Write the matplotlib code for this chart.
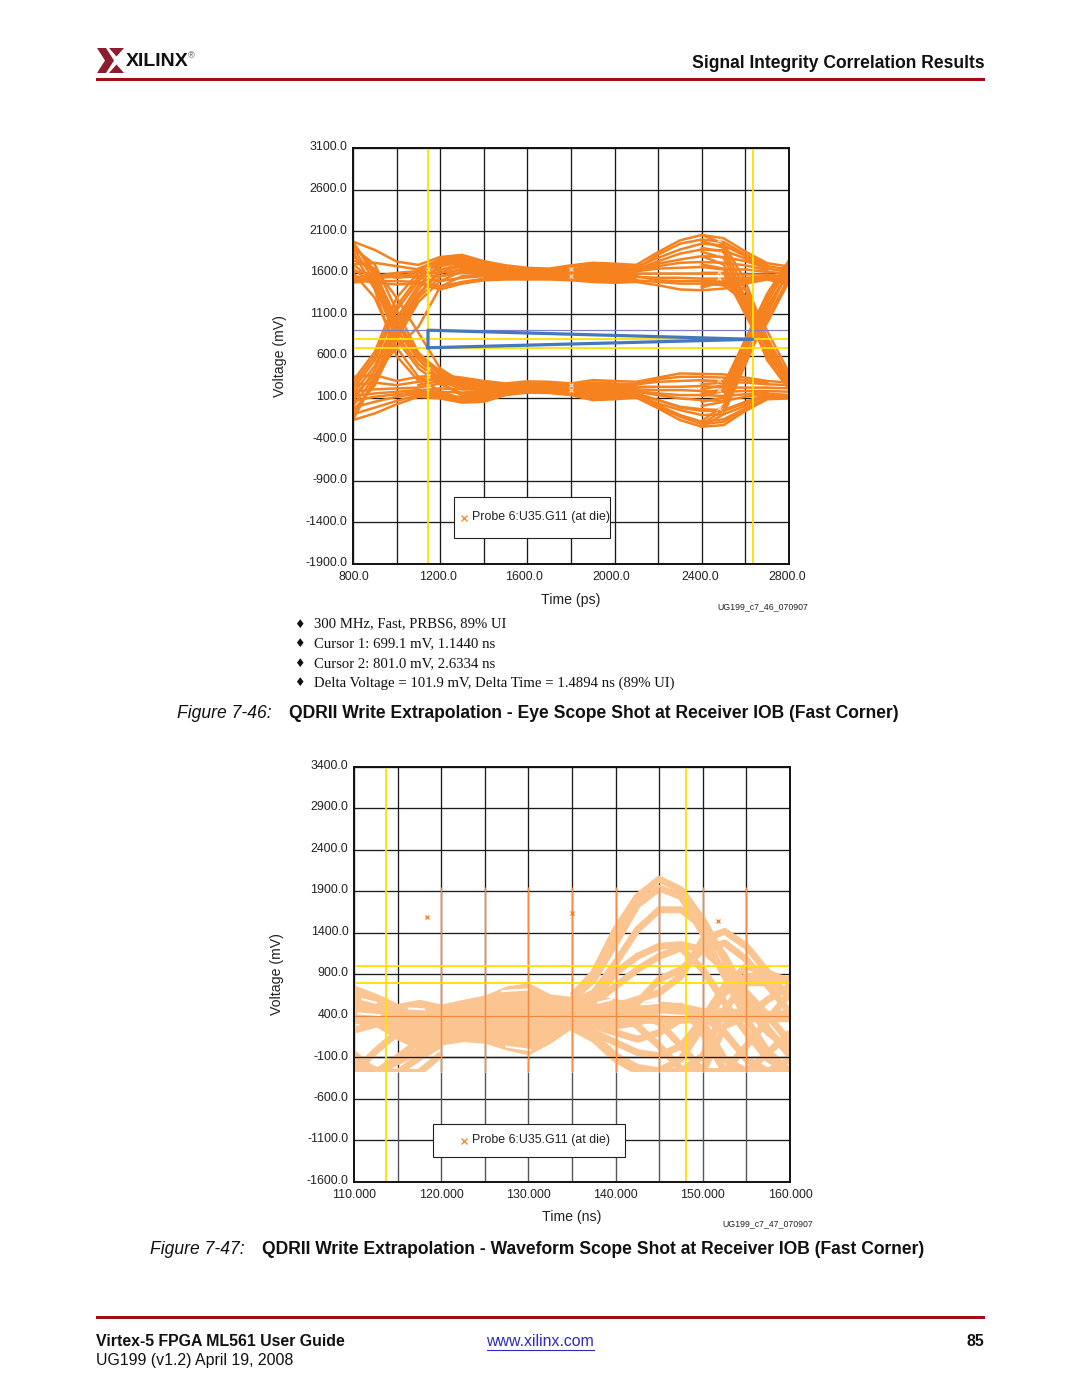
import matplotlib
matplotlib.use("Agg")
import matplotlib.pyplot as plt
from matplotlib.patches import Rectangle, Polygon
from matplotlib.transforms import ScaledTranslation

plt.rcParams['font.family'] = ['Liberation Sans', 'DejaVu Sans']

# ---------- data: eye diagram (Figure 7-46) ----------
EYE_XTICKS = [800, 1000, 1200, 1400, 1600, 1800, 2000, 2200, 2400, 2600, 2800]
EYE_XLABELS = ['800.0', '', '1200.0', '', '1600.0', '', '2000.0', '', '2400.0', '', '2800.0']
EYE_YTICKS = [-1900, -1400, -900, -400, 100, 600, 1100, 1600, 2100, 2600, 3100]
EYE_T = [800, 900, 1000, 1100, 1200, 1300, 1400, 1500, 1600, 1700, 1800, 1900, 2000, 2100, 2200, 2300, 2400, 2500, 2600, 2700, 2800]
EYE_HIGH = [
    [1975, 1875, 1735, 1695, 1790, 1815, 1740, 1690, 1660, 1650, 1690, 1720, 1710, 1695, 1850, 1990, 2055, 2015, 1855, 1715, 1675],
    [1700, 1720, 1680, 1640, 1750, 1770, 1700, 1660, 1640, 1630, 1670, 1700, 1690, 1670, 1780, 1880, 1950, 1930, 1800, 1680, 1640],
    [1550, 1560, 1600, 1620, 1690, 1720, 1670, 1640, 1620, 1610, 1640, 1670, 1660, 1640, 1710, 1760, 1800, 1790, 1740, 1650, 1610],
    [1500, 1530, 1560, 1600, 1640, 1670, 1640, 1620, 1600, 1600, 1620, 1640, 1630, 1620, 1650, 1660, 1670, 1640, 1640, 1610, 1590],
    [1620, 1580, 1540, 1560, 1560, 1600, 1600, 1590, 1580, 1580, 1590, 1600, 1590, 1590, 1590, 1590, 1590, 1590, 1580, 1580, 1550],
    [1480, 1520, 1590, 1540, 1500, 1540, 1560, 1560, 1560, 1560, 1560, 1560, 1550, 1550, 1540, 1540, 1530, 1530, 1540, 1560, 1520],
    [1540, 1500, 1500, 1490, 1430, 1490, 1530, 1530, 1530, 1540, 1530, 1520, 1510, 1510, 1490, 1470, 1470, 1450, 1500, 1540, 1480],
    [1520, 1480, 1460, 1470, 1400, 1470, 1510, 1520, 1520, 1520, 1510, 1490, 1480, 1490, 1450, 1400, 1390, 1410, 1470, 1520, 1460],
]
EYE_LOW = [
    [350, 370, 300, 350, 370, 340, 300, 270, 295, 290, 270, 310, 300, 290, 340, 390, 385, 380, 340, 300, 280],
    [250, 280, 250, 290, 330, 290, 270, 250, 270, 265, 250, 280, 270, 260, 290, 300, 310, 290, 280, 260, 250],
    [170, 200, 210, 220, 270, 260, 240, 230, 240, 240, 230, 240, 240, 230, 230, 230, 240, 220, 220, 220, 210],
    [120, 150, 170, 190, 210, 200, 210, 210, 220, 220, 210, 210, 210, 200, 190, 190, 180, 170, 180, 180, 170],
    [60, 110, 140, 170, 170, 160, 180, 190, 200, 190, 190, 180, 180, 170, 130, 90, 70, 60, 110, 150, 130],
    [-20, 50, 110, 150, 140, 100, 130, 170, 180, 170, 170, 140, 130, 140, 70, -20, -60, -60, 30, 120, 110],
    [-100, -20, 60, 130, 110, 60, 90, 150, 165, 160, 150, 100, 90, 110, 10, -110, -190, -160, -30, 90, 100],
    [-170, -90, 20, 110, 90, 40, 50, 130, 160, 155, 130, 70, 80, 100, -30, -170, -250, -230, -60, 80, 90],
]
EYE_RAIL_T = [1400, 1500, 1600, 1700, 1800, 1900, 2000, 2100]
EYE_RAIL_HI_TOP = [1680, 1650, 1640, 1630, 1660, 1700, 1690, 1660]
EYE_RAIL_HI_BOT = [1520, 1530, 1530, 1530, 1520, 1500, 1490, 1500]
EYE_RAIL_LO_TOP = [280, 260, 280, 280, 260, 290, 280, 270]
EYE_RAIL_LO_BOT = [70, 140, 165, 160, 140, 90, 90, 110]
EYE_HUMP_R_T = [2100, 2200, 2300, 2400, 2500, 2600, 2700]
EYE_HUMP_R = [
    [1650, 1820, 1950, 2000, 1970, 1820, 1690],
    [1640, 1740, 1830, 1880, 1870, 1770, 1660],
    [1620, 1680, 1720, 1730, 1720, 1690, 1630],
    [1560, 1510, 1500, 1500, 1500, 1520, 1550],
    [270, 320, 350, 350, 340, 310, 280],
    [180, 150, 130, 130, 120, 140, 170],
    [130, 30, -50, -110, -100, 0, 130],
    [110, -10, -130, -220, -190, -40, 100],
    [150, 70, -10, -40, -50, 50, 140],
]
EYE_HUMP_L_T = [1100, 1200, 1300, 1400, 1500]
EYE_HUMP_L = [
    [1650, 1760, 1790, 1720, 1670],
    [1600, 1600, 1640, 1610, 1600],
    [1480, 1440, 1480, 1520, 1530],
    [1620, 1700, 1740, 1680, 1650],
    [320, 350, 320, 290, 260],
    [170, 120, 80, 110, 160],
    [140, 100, 50, 70, 140],
    [250, 300, 270, 250, 240],
]
EYE_T_LEFT = [800, 900, 1000, 1100, 1200, 1300, 1400]
EYE_FALL_LEFT = [
    [1975, 1560, 910, 560, 330, 230, 210],
    [1900, 1700, 1150, 640, 400, 250, 220],
    [1750, 1650, 1300, 880, 450, 280, 230],
    [1650, 1450, 800, 450, 260, 150, 190],
    [1600, 1300, 700, 350, 170, 90, 170],
    [1850, 1400, 600, 300, 130, 60, 150],
    [1900, 1500, 850, 500, 300, 200, 200],
    [1800, 1600, 1050, 600, 370, 240, 220],
    [1700, 1500, 1000, 560, 290, 120, 180],
    [1950, 1620, 1000, 620, 420, 300, 240],
]
EYE_RISE_LEFT = [
    [-170, 330, 900, 1330, 1640, 1700, 1650],
    [60, 430, 1000, 1400, 1720, 1750, 1680],
    [200, 550, 1150, 1500, 1780, 1790, 1700],
    [-60, 250, 800, 1250, 1500, 1620, 1620],
    [120, 380, 700, 950, 1430, 1560, 1580],
    [300, 650, 1300, 1600, 1700, 1720, 1670],
    [-100, 300, 850, 1300, 1550, 1650, 1640],
    [150, 480, 1050, 1450, 1680, 1730, 1680],
    [250, 600, 1200, 1550, 1740, 1770, 1700],
    [0, 350, 950, 1350, 1600, 1700, 1650],
]
EYE_T_RIGHT = [2400, 2500, 2600, 2700, 2800]
EYE_FALL_RIGHT = [
    [2055, 1950, 1500, 800, 350],
    [1900, 1850, 1300, 700, 280],
    [1800, 1700, 1200, 550, 200],
    [1600, 1600, 1100, 600, 300],
    [1500, 1450, 1250, 750, 250],
    [1420, 1500, 1400, 900, 400],
    [1980, 1900, 1400, 750, 300],
    [1850, 1780, 1250, 650, 250],
    [1700, 1650, 1150, 580, 220],
    [1450, 1480, 1320, 820, 320],
]
EYE_RISE_RIGHT = [
    [-250, -100, 500, 1100, 1650],
    [-180, 0, 650, 1200, 1600],
    [50, 100, 700, 1300, 1700],
    [200, 250, 800, 1350, 1750],
    [300, 300, 600, 1000, 1500],
    [150, 200, 550, 1050, 1550],
    [-220, -50, 570, 1150, 1620],
    [0, 50, 680, 1250, 1680],
    [120, 180, 750, 1300, 1720],
    [260, 280, 700, 1180, 1620],
]
EYE_PROBE_T = [1144, 1144, 1144, 1144, 1144, 1144, 1144, 1144, 1800, 1800, 1800, 1800, 2480, 2480, 2480, 2480, 2480, 2480, 2480]
EYE_PROBE_V = [1640, 1560, 1390, 1300, 1190, 440, 360, 240, 1640, 1560, 250, 190, 1990, 1840, 1610, 1540, -30, 310, 190]
EYE_CURSOR_T = [1144, 2633.4]
EYE_CURSOR_V = [699.1, 801.0]
EYE_BOX_T = [1144, 1144, 2633.4, 1144]
EYE_BOX_V = [699.1, 910, 801.0, 699.1]
EYE_THRESHOLD = 910

# ---------- data: waveform (Figure 7-47) ----------
WAVE_XTICKS = [110, 115, 120, 125, 130, 135, 140, 145, 150, 155, 160]
WAVE_XLABELS = ['110.000', '', '120.000', '', '130.000', '', '140.000', '', '150.000', '', '160.000']
WAVE_YTICKS = [-1600, -1100, -600, -100, 400, 900, 1400, 1900, 2400, 2900, 3400]
WAVE_T = [110, 112.5, 115, 117.5, 120, 122.5, 125, 127.5, 130, 132.5, 135, 137.5, 140, 142.5, 145, 147.5, 150, 152.5, 155, 157.5, 160]
WAVE_CORE_TOP = [774, 674, 553, 601, 545, 601, 654, 762, 802, 666, 634, 654, 610, 560, 580, 560, 500, 500, 480, 470, 480]
WAVE_CORE_BOTTOM = [312, 272, 111, -9, 51, 91, 71, -9, -69, 71, 252, 211, 272, 312, 312, 312, 330, 330, 330, 330, 330]
WAVE_T_RIGHT = [135, 137.5, 140, 142.5, 145, 147.5, 150, 152.5, 155, 157.5, 160]
WAVE_ARCS = [
    [640, 920, 1440, 1840, 2048, 1920, 1560, 1080, 520, 200, 0],
    [600, 840, 1280, 1740, 1940, 1840, 1400, 880, 360, -40, -268],
    [560, 680, 1040, 1440, 1680, 1680, 1480, 1120, 640, 240, -80],
    [560, 600, 920, 1120, 1240, 1260, 1200, 960, 680, 400, 80],
    [480, 560, 760, 960, 1120, 1220, 960, 560, 200, -120, -268],
    [480, 480, 520, 600, 680, 880, 1320, 1420, 1240, 920, 600],
    [440, 400, 400, 560, 840, 960, 1200, 1280, 1080, 760, 440],
    [260, 160, -80, -220, -260, -120, 280, 680, 880, 880, 840],
    [260, 120, -120, -268, -268, -268, -80, 480, 800, 800, 680],
    [260, 200, 80, -40, -80, 40, 360, 760, 1000, 920, 800],
    [320, 280, 200, 120, 200, 360, 400, 200, -120, -268, -268],
    [360, 320, 280, 320, 400, 480, 320, -120, -268, -268, -120],
    [400, 360, 320, 400, 480, 520, 200, -268, -268, -40, 200],
    [400, 400, 400, 440, 320, 40, -268, -268, 40, 360, 680],
    [480, 480, 440, 280, 40, -240, -268, 280, 400, 600, 760],
]
WAVE_T_LEFT = [110, 112.5, 115, 117.5, 120]
WAVE_LEFT = [
    [-60, -280, -280, -100, 60],
    [-160, -250, -280, -280, -60],
    [-280, -20, 200, 200, 150],
    [-200, -280, -100, 100, 180],
    [-280, -280, -150, -20, 100],
    [500, 430, 300, 250, 200],
    [230, 300, 380, 350, 300],
]
WAVE_GAPS = [
    ([111, 112.5], [600, 560]), ([110.5, 113], [430, 410]), ([116.3, 118], [490, 480]),
    ([127, 130], [700, 720]), ([127.5, 130.2], [30, -10]), ([138, 139.5], [560, 600]),
    ([143, 145], [540, 560]), ([145, 148], [420, 400]),
]
WAVE_PROBE_T = [118.4, 135.0, 151.7]
WAVE_PROBE_V = [1597, 1637, 1545]
WAVE_CURSOR_T = [113.7, 148.1]
WAVE_CURSOR_V = [803, 1002]
WAVE_STUB_T = [120, 125, 130, 135, 140, 145, 150, 155]
WAVE_STUB_TOP = 1954
WAVE_STUB_BOTTOM = -278

BULLETS = ['300 MHz, Fast, PRBS6, 89% UI', 'Cursor 1: 699.1 mV, 1.1440 ns',
           'Cursor 2: 801.0 mV, 2.6334 ns', 'Delta Voltage = 101.9 mV, Delta Time = 1.4894 ns (89% UI)']

ORANGE = '#F5821F'
PEACH = '#FBC592'
YELLOW = '#FFE100'
RED = '#A00D12'
W, H = 1080, 1397

fig = plt.figure(figsize=(W / 100, H / 100), dpi=100, facecolor='white')

page = fig.add_axes([0, 0, 1, 1], zorder=0)
page.set_xlim(0, W)
page.set_ylim(H, 0)
page.axis('off')


def px_axes(x0, y0, x1, y1):
    return fig.add_axes([x0 / W, 1 - y1 / H, (x1 - x0) / W, (y1 - y0) / H], zorder=2)


def style(ax, xticks, xlabels, yticks, xlim, ylim, ylift):
    ax.set_xlim(*xlim)
    ax.set_ylim(*ylim)
    ax.set_xticks(xticks)
    ax.set_xticklabels(xlabels, fontsize=8.9)
    ax.set_yticks(yticks)
    ax.set_yticklabels([f'{v:.1f}' for v in yticks], fontsize=8.9)
    ax.tick_params(axis='x', length=0, pad=5, colors='#222222')
    ax.tick_params(axis='y', length=0, pad=4, colors='#222222')
    for lab in ax.get_yticklabels():
        lab.set_transform(lab.get_transform() + ScaledTranslation(0, ylift / 100, fig.dpi_scale_trans))
    ax.grid(True, color='#1c1c1c', lw=0.95, zorder=1)
    ax.set_axisbelow(True)
    for s in ax.spines.values():
        s.set_linewidth(1.4)
        s.set_color('#111111')
        s.set_zorder(10)


# ---------- eye ----------
ax1 = px_axes(353, 148, 789, 564)
style(ax1, EYE_XTICKS, EYE_XLABELS, EYE_YTICKS, (800, 2800), (-1900, 3100), 2)
for lab, dx in zip(ax1.get_xticklabels(), [1, 0, -2.5, 0, -3, 0, -3, 0, -2, 0, -1.5]):
    lab.set_transform(lab.get_transform() + ScaledTranslation(dx / 100, 0, fig.dpi_scale_trans))
for lab in ax1.get_yticklabels() + ax1.get_xticklabels():
    lab.set_color('#222222')
ax1.fill_between(EYE_RAIL_T, EYE_RAIL_HI_BOT, EYE_RAIL_HI_TOP, color=ORANGE, lw=0, zorder=3)
ax1.fill_between(EYE_RAIL_T, EYE_RAIL_LO_BOT, EYE_RAIL_LO_TOP, color=ORANGE, lw=0, zorder=3)
for tr in EYE_HIGH + EYE_LOW:
    ax1.plot(EYE_T, tr, color=ORANGE, lw=1.8, zorder=3, solid_joinstyle='round')
for tr in EYE_HUMP_R:
    ax1.plot(EYE_HUMP_R_T, tr, color=ORANGE, lw=1.8, zorder=3, solid_joinstyle='round')
for tr in EYE_HUMP_L:
    ax1.plot(EYE_HUMP_L_T, tr, color=ORANGE, lw=1.8, zorder=3, solid_joinstyle='round')
for tr in EYE_FALL_LEFT + EYE_RISE_LEFT:
    ax1.plot(EYE_T_LEFT, tr, color=ORANGE, lw=1.8, zorder=3, solid_joinstyle='round')
for tr in EYE_FALL_RIGHT + EYE_RISE_RIGHT:
    ax1.plot(EYE_T_RIGHT, tr, color=ORANGE, lw=1.8, zorder=3, solid_joinstyle='round')
ax1.plot(EYE_PROBE_T, EYE_PROBE_V, ls='none', marker='x', ms=3, mew=0.8, color='#FDE6D0', zorder=4)
ax1.axhline(EYE_THRESHOLD, color='#8080C8', lw=0.9, zorder=5)
for v in EYE_CURSOR_V:
    ax1.axhline(v, color=YELLOW, lw=1.3, zorder=5)
for t in EYE_CURSOR_T:
    ax1.axvline(t, color=YELLOW, lw=1.3, zorder=5)
ax1.plot(EYE_BOX_T, EYE_BOX_V, color='#4479BE', lw=2.3, zorder=6)
ax1.text(0.5, -0.0865, 'Time (ps)', transform=ax1.transAxes, ha='center', va='center', fontsize=10.2, color='#222222')
ax1.text(-0.1675, 0.5, 'Voltage (mV)', transform=ax1.transAxes, rotation=90, ha='center', va='center', fontsize=10.2, color='#222222')

# ---------- waveform ----------
ax2 = px_axes(354, 767, 790, 1182)
style(ax2, WAVE_XTICKS, WAVE_XLABELS, WAVE_YTICKS, (110, 160), (-1600, 3400), 2.5)
for lab in ax2.get_yticklabels() + ax2.get_xticklabels():
    lab.set_color('#222222')
ax2.fill_between(WAVE_T, WAVE_CORE_BOTTOM, WAVE_CORE_TOP, color=PEACH, lw=0, zorder=3)
for tr in WAVE_ARCS:
    ax2.plot(WAVE_T_RIGHT, tr, color=PEACH, lw=5.0, zorder=3, solid_capstyle='butt', solid_joinstyle='round')
for tr in WAVE_LEFT:
    ax2.plot(WAVE_T_LEFT, tr, color=PEACH, lw=5.0, zorder=3, solid_capstyle='butt')
for gx, gy in WAVE_GAPS:
    ax2.plot(gx, gy, color='white', lw=1.5, zorder=3.5)
ax2.add_patch(Rectangle((110, -1600), 50, 1322, facecolor='white', edgecolor='none', zorder=3.6))
ax2.hlines(WAVE_YTICKS[:4], 110, 160, color='#1c1c1c', lw=0.95, zorder=3.7)
ax2.vlines(WAVE_XTICKS[1:-1], -1600, -278, color='#555555', lw=1.0, zorder=3.7)
ax2.hlines([400], 110, 160, color='#F08A3A', lw=0.9, zorder=4)
ax2.vlines(WAVE_STUB_T, WAVE_STUB_BOTTOM, WAVE_STUB_TOP, color='#F58C45', lw=1.05, zorder=4)
ax2.plot(WAVE_PROBE_T, WAVE_PROBE_V, ls='none', marker='x', ms=3.5, mew=0.9, color='#F47B20', zorder=4)
for v in WAVE_CURSOR_V:
    ax2.axhline(v, color=YELLOW, lw=1.3, zorder=5)
for t in WAVE_CURSOR_T:
    ax2.axvline(t, color=YELLOW, lw=1.3, zorder=5)
ax2.text(0.5, -0.0835, 'Time (ns)', transform=ax2.transAxes, ha='center', va='center', fontsize=10.2, color='#222222')
ax2.text(-0.1755, 0.5, 'Voltage (mV)', transform=ax2.transAxes, rotation=90, ha='center', va='center', fontsize=10.2, color='#222222')

# legends
over = fig.add_axes([0, 0, 1, 1], zorder=5)
over.set_xlim(0, W)
over.set_ylim(H, 0)
over.axis('off')
over.patch.set_alpha(0)
for (x0, y0, x1, y1, mx, tx, ty) in [(454, 497, 610, 538, 464, 472, 517), (433, 1124, 625, 1157, 464, 472, 1140)]:
    over.add_patch(Rectangle((x0, y0), x1 - x0, y1 - y0, facecolor='white', edgecolor='#222222', lw=0.8))
    over.plot([mx], [ty + 1], marker='x', ms=4, mew=0.9, color=ORANGE)
    over.text(tx, ty, 'Probe 6:U35.G11 (at die)', fontsize=8.9, va='center', ha='left', color='#222222')

# header
page.add_patch(Rectangle((96, 77.8), 889, 3.2, color=RED, lw=0))
MARK = '#8C1D2F'
for pts in [
    [(97, 48), (106, 48), (114, 60.5), (106, 73), (97, 73), (105, 60.5)],
    [(109, 48), (124, 48), (116.5, 56.5)],
    [(116.5, 64.5), (124, 73), (109, 73)],
]:
    page.add_patch(Polygon(pts, closed=True, color=MARK, lw=0))
page.text(126, 62, 'XILINX', fontweight='bold', fontsize=14, va='center', ha='left', color='#111111')
page.text(191.5, 55.5, '®', fontsize=6.5, va='center', ha='center', color='#444444')
page.text(984.5, 63.5, 'Signal Integrity Correlation Results', fontweight='bold', fontsize=12.65, va='center', ha='right', color='#111111')

# small figure ids
page.text(717, 607, 'UG199_c7_46_070907', fontsize=6.35, va='center', ha='left', color='#222222')
page.text(722, 1223.5, 'UG199_c7_47_070907', fontsize=6.35, va='center', ha='left', color='#222222')

# bullets
for y, txt in zip([624, 643.5, 663.5, 683], BULLETS):
    page.text(299.5, y, '♦', family=['DejaVu Sans'], fontsize=8.5, va='center', ha='center', color='#111111')
    page.text(314.5, y, txt, family=['Liberation Serif'], fontsize=10.65, va='center', ha='left', color='#111111')

# captions
page.text(177, 713, 'Figure 7-46:', fontstyle='italic', fontsize=12.65, va='center', ha='left', color='#111111')
page.text(289, 713, 'QDRII Write Extrapolation - Eye Scope Shot at Receiver IOB (Fast Corner)', fontweight='bold', fontsize=12.65, va='center', ha='left', color='#111111')
page.text(150, 1250, 'Figure 7-47:', fontstyle='italic', fontsize=12.65, va='center', ha='left', color='#111111')
page.text(262, 1250, 'QDRII Write Extrapolation - Waveform Scope Shot at Receiver IOB (Fast Corner)', fontweight='bold', fontsize=12.65, va='center', ha='left', color='#111111')

# footer
page.add_patch(Rectangle((96, 1316), 889, 3.2, color=RED, lw=0))
page.text(96, 1341, 'Virtex-5 FPGA ML561 User Guide', fontweight='bold', fontsize=11.4, va='center', ha='left', color='#111111')
page.text(540, 1341, 'www.xilinx.com', fontsize=11.4, va='center', ha='center', color='#2A2AC0')
page.plot([487, 593.5], [1349.5, 1349.5], color='#2A2AC0', lw=0.8)
page.text(984.5, 1341, '85', fontweight='bold', fontsize=11.4, va='center', ha='right', color='#111111')
page.text(96, 1360, 'UG199 (v1.2) April 19, 2008', fontsize=11.4, va='center', ha='left', color='#111111')

fig.savefig('out.png', dpi=100, facecolor='white')
